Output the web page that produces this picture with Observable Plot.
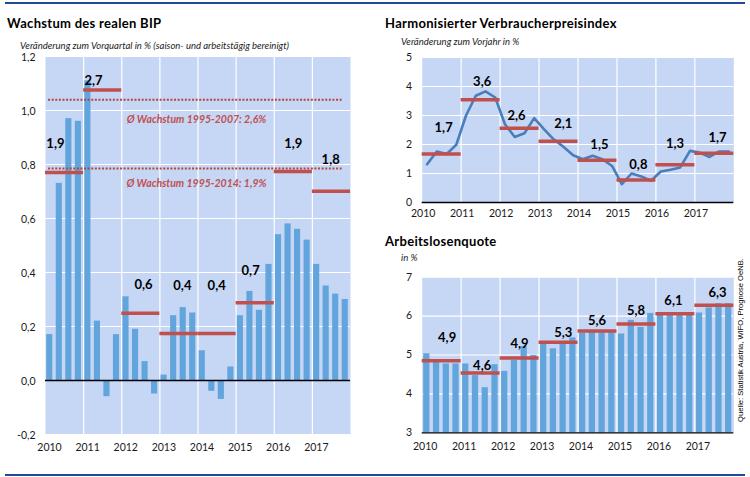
<!DOCTYPE html>
<html>
<head>
<meta charset="utf-8">
<script src="https://cdn.jsdelivr.net/npm/d3@7"></script>
<script src="https://cdn.jsdelivr.net/npm/@observablehq/plot@0.6"></script>
<style>
  html, body { margin: 0; padding: 0; background: #fff; }
  #wrap { position: relative; width: 750px; height: 477px; overflow: hidden; font-family: Lato, "Open Sans", sans-serif; color: #000; }
  .abs { position: absolute; white-space: nowrap; }
  .title { font-weight: 700; font-size: 13px; line-height: 16px; letter-spacing: 0.3px; }
  .sub { font-style: italic; font-size: 9.5px; line-height: 10px; color: #222; }
  .rule { position: absolute; left: 5px; width: 740px; height: 2px; background: #1f4a96; }
  .src { font-family: "Liberation Sans", Arial, sans-serif; font-size: 7.6px; line-height: 10px; }
  svg { overflow: visible; }
</style>
</head>
<body>
<div id="wrap">
  <div class="rule" style="top:2px"></div>
  <div class="rule" style="top:474px"></div>
  <div class="abs title" style="left:7px; top:15px">Wachstum des realen BIP</div>
  <div class="abs sub" style="left:20px; top:41px">Veränderung zum Vorquartal in % (saison- und arbeitstägig bereinigt)</div>
  <div class="abs title" style="left:385px; top:15px">Harmonisierter Verbraucherpreisindex</div>
  <div class="abs sub" style="left:401px; top:37px">Veränderung zum Vorjahr in %</div>
  <div class="abs title" style="left:385px; top:233px">Arbeitslosenquote</div>
  <div class="abs sub" style="left:401px; top:253px">in %</div>
  <div class="abs src" id="src" style="left:641px; top:335px; width:200px; text-align:center; transform: rotate(-90deg); transform-origin: 100px 5px;">Quelle: Statistik Austria, WIFO, Prognose OeNB.</div>
  <div class="abs" id="gdp" style="left:0px; top:50px"></div>
  <div class="abs" id="cpi" style="left:380px; top:50px"></div>
  <div class="abs" id="unemp" style="left:380px; top:265px"></div>
</div>
<script>
// ---------- DATA ----------
const years = [2010, 2011, 2012, 2013, 2014, 2015, 2016, 2017];

// Real GDP growth, q/q in %
const gdpQuarterly = [0.17, 0.73, 0.97, 0.96, 1.11, 0.22, -0.06, 0.17,
                      0.31, 0.19, 0.07, -0.05, 0.02, 0.24, 0.27, 0.25,
                      0.11, -0.04, -0.07, 0.05, 0.24, 0.33, 0.26, 0.43,
                      0.54, 0.58, 0.56, 0.52, 0.43, 0.35, 0.32, 0.30];
const gdpAnnualLevel = [0.77, 1.076, 0.249, 0.174, 0.174, 0.288, 0.774, 0.701];
const gdpAnnualLabel = ["1,9", "2,7", "0,6", "0,4", "0,4", "0,7", "1,9", "1,8"];
const gdpBenchmarks = [1.04, 0.785];
const gdpBenchmarkLabels = ["Ø Wachstum 1995-2007: 2,6%", "Ø Wachstum 1995-2014: 1,9%"];
const gdpYTicks = [-0.2, 0, 0.2, 0.4, 0.6, 0.8, 1.0, 1.2];

// HICP, y/y in %
const cpiQuarterly = [1.32, 1.76, 1.67, 1.99, 3.0, 3.68, 3.83, 3.62,
                      2.7, 2.26, 2.39, 2.91, 2.53, 2.18, 1.92, 1.63,
                      1.49, 1.61, 1.49, 1.26, 0.63, 1.0, 0.9, 0.75,
                      1.07, 1.13, 1.21, 1.78, 1.72, 1.57, 1.76, 1.76];
const cpiAnnualLevel = [1.67, 3.54, 2.56, 2.11, 1.46, 0.78, 1.30, 1.70];
const cpiAnnualLabel = ["1,7", "3,6", "2,6", "2,1", "1,5", "0,8", "1,3", "1,7"];
const cpiYTicks = [0, 1, 2, 3, 4, 5];

// Unemployment rate in %
const unempQuarterly = [5.03, 4.82, 4.77, 4.77, 4.77, 4.47, 4.16, 4.75,
                        4.58, 4.86, 5.22, 4.99, 5.29, 5.16, 5.29, 5.44,
                        5.56, 5.58, 5.57, 5.58, 5.54, 5.89, 5.71, 6.07,
                        6.03, 6.04, 6.04, 6.04, 6.08, 6.21, 6.32, 6.32];
const unempAnnualLevel = [4.85, 4.54, 4.92, 5.33, 5.62, 5.80, 6.06, 6.28];
const unempAnnualLabel = ["4,9", "4,6", "4,9", "5,3", "5,6", "5,8", "6,1", "6,3"];
const unempYTicks = [3, 4, 5, 6, 7];

// annotation anchors (data coordinates)
const gdpLabelAt = [[2010.26, 0.878], [2011.26, 1.111], [2012.57, 0.356], [2013.59, 0.352],
                    [2014.49, 0.352], [2015.38, 0.407], [2016.50, 0.878], [2017.48, 0.819]];
const gdpBenchLabelAt = [[2013.96, 0.967], [2013.96, 0.73]];
const cpiLabelAt = [[2010.55, 2.58], [2011.54, 4.16], [2012.42, 2.99], [2013.62, 2.71],
                    [2014.55, 1.99], [2015.55, 1.30], [2016.49, 2.03], [2017.58, 2.24]];
const unempLabelAt = [[2010.64, 5.44], [2011.54, 4.73], [2012.50, 5.30], [2013.62, 5.57],
                      [2014.49, 5.87], [2015.49, 6.14], [2016.45, 6.38], [2017.58, 6.61]];

// ---------- STYLE ----------
const BG = "#c6d6f5";
const BAR = "#62a5dc";
const RED = "#c0504d";
const LINE = "#4a7ebb";
const DOT = "#b5453f";
const comma1 = d => d.toFixed(1).replace(".", ",");
const baseStyle = { fontFamily: "Lato, 'Open Sans', sans-serif", fontSize: "10.5px", color: "#1a1a1a", background: "transparent", overflow: "visible" };

const quarterRows = vals => vals.map((v, i) => ({ t: years[0] + Math.floor(i / 4) + (i % 4) / 4, v }));
const annualRows = (levels, labels, at) => years.map((y, i) => ({ year: y, level: levels[i], label: labels[i], lx: at[i][0], ly: at[i][1] }));

const labelText = rows => Plot.text(rows, { x: "lx", y: "ly", text: "label", fontWeight: "bold", fontSize: 13, fill: "#000", fontFamily: "Lato, 'Open Sans', sans-serif" });
const avgRules = rows => Plot.ruleY(rows, { y: "level", x1: "year", x2: d => d.year + 1, stroke: RED, strokeWidth: 3.5 });

// ---------- GDP ----------
{
  const q = quarterRows(gdpQuarterly);
  const a = annualRows(gdpAnnualLevel, gdpAnnualLabel, gdpLabelAt);
  const bench = gdpBenchmarks.map((v, i) => ({ v, label: gdpBenchmarkLabels[i], lx: gdpBenchLabelAt[i][0], ly: gdpBenchLabelAt[i][1] }));
  const chart = Plot.plot({
    width: 360, height: 410,
    marginLeft: 45, marginRight: 10, marginTop: 6, marginBottom: 26,
    style: baseStyle,
    x: { domain: [2010, 2018], axis: null },
    y: { domain: [-0.2, 1.2], axis: null },
    marks: [
      Plot.frame({ fill: BG, stroke: null }),
      Plot.gridY(gdpYTicks, { stroke: "white", strokeOpacity: 1, strokeWidth: 1.2 }),
      Plot.gridX(years.slice(1), { stroke: "white", strokeOpacity: 1, strokeWidth: 1.2 }),
      Plot.rectY(q, { x1: "t", x2: d => d.t + 0.25, y: "v", fill: BAR, insetLeft: 1.2, insetRight: 2.2 }),
      Plot.ruleY([0], { stroke: "#000", strokeWidth: 1.3 }),
      Plot.ruleY(bench, { y: "v", x1: 2010.08, x2: 2017.82, stroke: DOT, strokeWidth: 2, strokeDasharray: "2,1.6" }),
      avgRules(a),
      labelText(a),
      Plot.text(bench, { x: "lx", y: "ly", text: "label", fill: RED, fontWeight: "bold", fontStyle: "italic", fontSize: 10.5 }),
      Plot.axisY(gdpYTicks, { tickSize: 0, tickPadding: 10, tickFormat: comma1, label: null, dy: 1.5 }),
      Plot.axisX(years, { tickSize: 0, tickPadding: 9, tickFormat: d => String(d), dx: 4, label: null })
    ]
  });
  document.getElementById("gdp").appendChild(chart);
}

// ---------- CPI ----------
{
  const q = cpiQuarterly.map((v, i) => ({ t: years[0] + Math.floor(i / 4) + (i % 4 + 0.5) / 4, v }));
  const a = annualRows(cpiAnnualLevel, cpiAnnualLabel, cpiLabelAt);
  const chart = Plot.plot({
    width: 370, height: 180,
    marginLeft: 41.7, marginRight: 16.7, marginTop: 7, marginBottom: 28,
    style: baseStyle,
    x: { domain: [2010, 2018], axis: null },
    y: { domain: [0, 5], axis: null },
    marks: [
      Plot.frame({ fill: BG, stroke: null }),
      Plot.gridY(cpiYTicks, { stroke: "white", strokeOpacity: 1, strokeWidth: 1.2 }),
      Plot.gridX(years.slice(1), { stroke: "white", strokeOpacity: 1, strokeWidth: 1.2 }),
      Plot.ruleY([0], { stroke: "#000", strokeWidth: 1.3 }),
      Plot.lineY(q, { x: "t", y: "v", stroke: LINE, strokeWidth: 2.6 }),
      avgRules(a),
      labelText(a),
      Plot.axisY(cpiYTicks, { tickSize: 0, tickPadding: 10, tickFormat: d => String(d), label: null }),
      Plot.axisX(years, { tickSize: 0, tickPadding: 7.5, tickFormat: d => String(d), dx: 1, label: null })
    ]
  });
  document.getElementById("cpi").appendChild(chart);
}

// ---------- Unemployment ----------
{
  const q = quarterRows(unempQuarterly);
  const a = annualRows(unempAnnualLevel, unempAnnualLabel, unempLabelAt);
  const chart = Plot.plot({
    width: 370, height: 195,
    marginLeft: 41.7, marginRight: 16.7, marginTop: 11.7, marginBottom: 27.7,
    style: baseStyle,
    x: { domain: [2010, 2018], axis: null },
    y: { domain: [3, 7], axis: null },
    marks: [
      Plot.frame({ fill: BG, stroke: null }),
      Plot.gridY(unempYTicks, { stroke: "white", strokeOpacity: 1, strokeWidth: 1.2 }),
      Plot.gridX(years.slice(1), { stroke: "white", strokeOpacity: 1, strokeWidth: 1.2 }),
      Plot.rectY(q, { x1: "t", x2: d => d.t + 0.25, y1: 3, y2: "v", fill: BAR, insetLeft: 1.5, insetRight: 2 }),
      Plot.ruleY([3], { stroke: "#000", strokeWidth: 1.3 }),
      avgRules(a),
      labelText(a),
      Plot.axisY(unempYTicks, { tickSize: 0, tickPadding: 10, tickFormat: d => String(d), label: null }),
      Plot.axisX(years, { tickSize: 0, tickPadding: 9.5, tickFormat: d => String(d), dx: 3, label: null })
    ]
  });
  document.getElementById("unemp").appendChild(chart);
}
</script>
</body>
</html>
